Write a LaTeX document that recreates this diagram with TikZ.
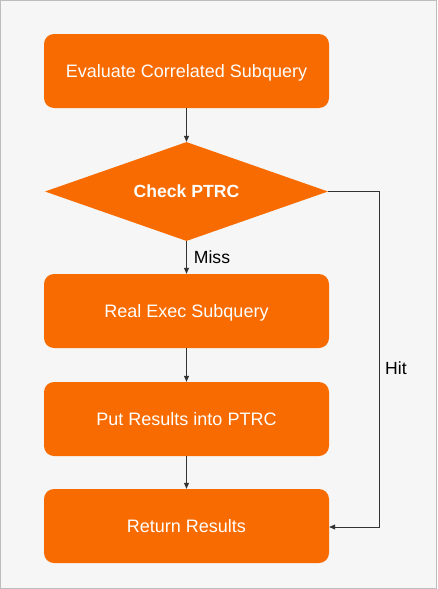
\documentclass[tikz,border=0pt]{standalone}
\usepackage{fontspec}
\setmainfont{Liberation Sans}
\usetikzlibrary{shapes.geometric,arrows.meta}
\definecolor{bg}{HTML}{F6F6F6}
\definecolor{frame}{HTML}{BDBDBD}
\definecolor{org}{HTML}{F76B00}
\definecolor{ln}{HTML}{333333}
\tikzset{
  stepbox/.style={draw=none,fill=org,rounded corners=10pt,minimum width=285pt,minimum height=74pt,text=white,font=\fontsize{18}{21}\selectfont,inner sep=0pt,text depth=0pt},
  decision/.style={diamond,draw=none,fill=org,minimum width=283pt,minimum height=99pt,inner sep=0pt,aspect=2.86,text=white,font=\fontsize{17.6}{20}\selectfont\bfseries,text depth=0pt},
  conn/.style={draw=ln,line width=0.8pt,-{Triangle[length=6pt,width=5pt]}},
  lbl/.style={text=black,font=\fontsize{17.6}{20}\selectfont,inner sep=0pt}
}
\begin{document}
\begin{tikzpicture}[x=1pt,y=-1pt]
\useasboundingbox (0,0) rectangle (437,589);
\draw[fill=bg,draw=frame,line width=1pt] (0.5,0.5) rectangle (436.5,588.5);
\node[stepbox] (eval) at (186.5,71) {Evaluate Correlated Subquery};
\node[decision] (check) at (186.5,191.5) {Check PTRC};
\node[stepbox] (real) at (186.5,311) {Real Exec Subquery};
\node[stepbox] (put) at (186.5,419) {Put Results into PTRC};
\node[stepbox] (ret) at (186.5,526) {Return Results};
\coordinate (c1) at (379,191.5);
\coordinate (c2) at (379,527);
\draw[conn] (eval.south) -- (check.north);
\draw[conn] (check.south) -- node[lbl,anchor=west,xshift=7pt,yshift=0pt] (miss) {Miss} (real.north);
\draw[conn] (real.south) -- (put.north);
\draw[conn] (put.south) -- (ret.north);
\draw[conn] (check.east) -- (c1) -- (c2) -- (ret.east |- c2);
\node[lbl,anchor=west] (hit) at (385,368) {Hit};
\end{tikzpicture}
\end{document}
